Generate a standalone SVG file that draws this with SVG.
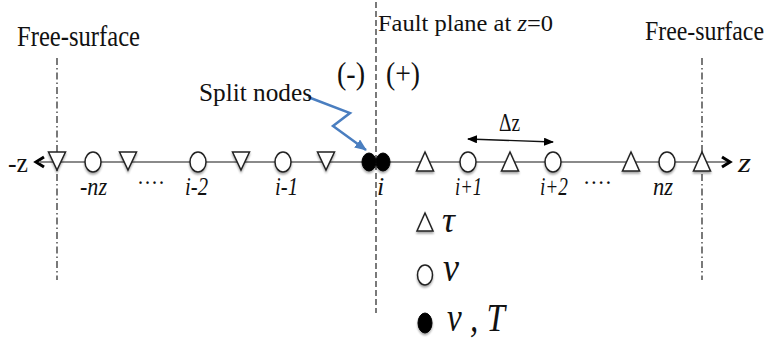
<svg xmlns="http://www.w3.org/2000/svg" width="770" height="339" viewBox="0 0 770 339">
<style>
.t{font-family:"Liberation Serif","DejaVu Serif",serif;fill:#111}
.it{font-family:"Liberation Serif","DejaVu Serif",serif;font-style:italic;fill:#111}
.sym{fill:#fff;stroke:#222;stroke-width:1.5}
.full{fill:#000;stroke:#000;stroke-width:1}
.dd{stroke:#333;stroke-width:1.3;fill:none;stroke-dasharray:7 3 1.5 3}
.da{stroke:#333;stroke-width:1.3;fill:none;stroke-dasharray:6 3}
</style>
<defs>
<filter id="sh" x="-50%" y="-50%" width="200%" height="200%">
<feGaussianBlur in="SourceAlpha" stdDeviation="1.2"/>
<feOffset dx="0" dy="2" result="b"/>
<feComponentTransfer><feFuncA type="linear" slope="0.35"/></feComponentTransfer>
<feMerge><feMergeNode/><feMergeNode in="SourceGraphic"/></feMerge>
</filter>
<marker id="ah" markerWidth="10" markerHeight="8" refX="9" refY="4" orient="auto-start-reverse" markerUnits="userSpaceOnUse">
<path d="M0,0 L10,4 L0,8 Z" fill="#000"/>
</marker>
<marker id="bh" markerWidth="12" markerHeight="10" refX="11" refY="5" orient="auto" markerUnits="userSpaceOnUse">
<path d="M0,0 L12,5 L0,10 Z" fill="#4a7ec0"/>
</marker>
</defs>

<g id="guides">
<line class="dd" x1="57" y1="58" x2="57" y2="280"/>
<line class="da" x1="376" y1="2" x2="376" y2="313"/>
<line class="dd" x1="702" y1="58" x2="702" y2="280"/>
</g>

<g id="connectors">
<line x1="40" y1="162" x2="728" y2="162" stroke="#8a8a8a" stroke-width="2"/>
<path d="M44,157 L36,162 L44,167" fill="none" stroke="#000" stroke-width="3"/>
<path d="M722,157 L730,162 L722,167" fill="none" stroke="#000" stroke-width="3"/>
<line x1="468" y1="139" x2="553" y2="142" stroke="#111" stroke-width="1.3" marker-start="url(#ah)" marker-end="url(#ah)"/>
<path d="M308,97 L350,113 L333,126 L366,150" fill="none" stroke="#4a7ec0" stroke-width="2.5" marker-end="url(#bh)"/>
</g>

<g id="labels-top">
<text class="t" x="17" y="46" font-size="29" textLength="123" lengthAdjust="spacingAndGlyphs">Free-surface</text>
<text class="t" transform="translate(645,40) scale(1,1.17)" x="0" y="0" font-size="23" textLength="119" lengthAdjust="spacingAndGlyphs">Free-surface</text>
<text class="t" x="378" y="31" font-size="24" textLength="175" lengthAdjust="spacingAndGlyphs">Fault plane at <tspan font-style="italic">z</tspan>=0</text>
<text class="t" x="337" y="84" font-size="32" textLength="28" lengthAdjust="spacingAndGlyphs">(-)</text>
<text class="t" x="386" y="84" font-size="32" textLength="34" lengthAdjust="spacingAndGlyphs">(+)</text>
<text class="t" x="199" y="101" font-size="25" textLength="113" lengthAdjust="spacingAndGlyphs">Split nodes</text>
<text class="t" x="499" y="131" font-size="25" textLength="21" lengthAdjust="spacingAndGlyphs">Δz</text>
</g>

<g id="axis-labels">
<text class="t" x="8" y="172" font-size="27" textLength="20" lengthAdjust="spacingAndGlyphs">-z</text>
<text class="it" x="738" y="172" font-size="27" textLength="13" lengthAdjust="spacingAndGlyphs">z</text>
<text class="it" x="80" y="195" font-size="26" textLength="27" lengthAdjust="spacingAndGlyphs">-nz</text>
<text class="t" x="137" y="190" font-size="24" textLength="28" lengthAdjust="spacingAndGlyphs">····</text>
<text class="it" x="185" y="195" font-size="26" textLength="23" lengthAdjust="spacingAndGlyphs">i-2</text>
<text class="it" x="275" y="195" font-size="26" textLength="23" lengthAdjust="spacingAndGlyphs">i-1</text>
<text class="it" x="377" y="195" font-size="26">i</text>
<text class="it" x="455" y="195" font-size="26" textLength="27" lengthAdjust="spacingAndGlyphs">i+1</text>
<text class="it" x="540" y="195" font-size="26" textLength="28" lengthAdjust="spacingAndGlyphs">i+2</text>
<text class="t" x="583" y="190" font-size="24" textLength="29" lengthAdjust="spacingAndGlyphs">····</text>
<text class="it" x="653" y="195" font-size="26" textLength="20" lengthAdjust="spacingAndGlyphs">nz</text>
</g>

<g id="node-tri-down" filter="url(#sh)">
<path class="sym" d="M48.5,152 L65.5,152 L57,170 Z"/>
<path class="sym" d="M119.5,152 L136.5,152 L128,170 Z"/>
<path class="sym" d="M232.5,152 L249.5,152 L241,170 Z"/>
<path class="sym" d="M317.5,152 L334.5,152 L326,170 Z"/>
</g>
<g id="node-circles" filter="url(#sh)">
<ellipse class="sym" cx="93" cy="162" rx="8" ry="10"/>
<ellipse class="sym" cx="198" cy="162" rx="8" ry="10"/>
<ellipse class="sym" cx="283" cy="162" rx="8" ry="10"/>
<ellipse class="sym" cx="468" cy="162" rx="8" ry="10"/>
<ellipse class="sym" cx="553" cy="162" rx="8" ry="10"/>
<ellipse class="sym" cx="667" cy="162" rx="8" ry="10"/>
</g>
<g id="node-split" filter="url(#sh)">
<ellipse class="full" cx="369" cy="162" rx="7" ry="9"/>
<ellipse class="full" cx="383" cy="162" rx="7" ry="9"/>
</g>
<g id="node-tri-up" filter="url(#sh)">
<path class="sym" d="M425,152 L433.5,171 L416.5,171 Z"/>
<path class="sym" d="M510,152 L518.5,171 L501.5,171 Z"/>
<path class="sym" d="M631,152 L639.5,171 L622.5,171 Z"/>
<path class="sym" d="M702,152 L710.5,171 L693.5,171 Z"/>
</g>

<g id="legend">
<path class="sym" filter="url(#sh)" d="M425,213 L433,231 L417,231 Z"/>
<text class="it" x="442" y="232" font-size="36">τ</text>
<ellipse class="sym" filter="url(#sh)" cx="425" cy="275" rx="7.5" ry="10"/>
<text class="it" x="443" y="281" font-size="42" textLength="16" lengthAdjust="spacingAndGlyphs">v</text>
<ellipse class="full" filter="url(#sh)" cx="425" cy="323" rx="7" ry="10"/>
<text class="it" x="447" y="331" font-size="40" textLength="58" lengthAdjust="spacingAndGlyphs">v , T</text>
</g>
</svg>
